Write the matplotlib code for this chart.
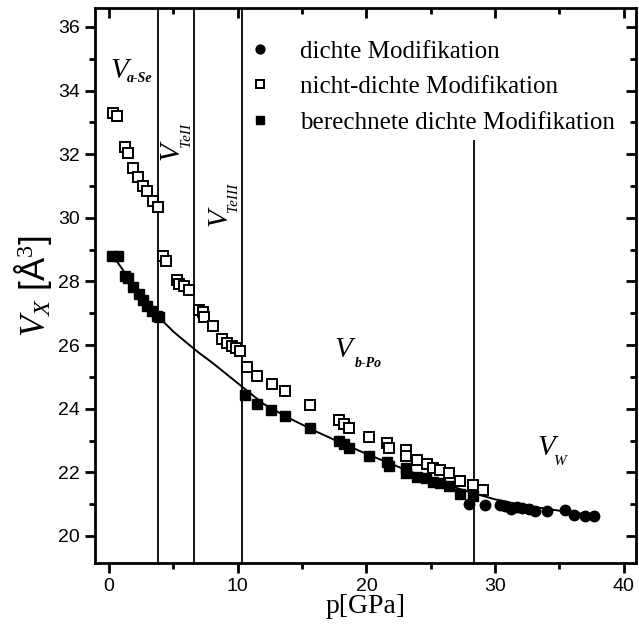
import matplotlib
matplotlib.use('Agg')
import matplotlib.pyplot as plt
from matplotlib.ticker import MultipleLocator

plt.rcParams['font.family'] = ['Liberation Sans', 'DejaVu Sans']
plt.rcParams['mathtext.fontset'] = 'custom'
plt.rcParams['mathtext.rm'] = 'Liberation Serif'
plt.rcParams['mathtext.it'] = 'Liberation Serif:italic'
plt.rcParams['mathtext.bf'] = 'Liberation Serif:bold'

# ---------------- data ----------------
# dichte Modifikation (filled circles)
p_dense = [27.95, 29.2, 30.35, 30.8, 31.2, 31.7, 32.1, 32.6, 33.1, 34.0, 35.4, 36.1, 37.0, 37.7]
V_dense = [21.0, 20.98, 20.98, 20.93, 20.86, 20.9, 20.87, 20.84, 20.78, 20.78, 20.82, 20.65, 20.63, 20.64]

# nicht-dichte Modifikation (open squares)
p_nondense = [0.33, 0.6, 1.24, 1.5, 1.84, 2.23, 2.62, 2.93, 3.4, 3.83,
              4.15, 4.4, 5.26, 5.46, 5.83, 6.24, 7.02, 7.28, 7.4, 8.06,
              8.76, 9.15, 9.53, 9.87, 10.18, 10.75, 11.52, 12.64, 13.68, 15.62,
              17.9, 18.26, 18.65, 20.22, 21.57, 21.78, 23.07, 23.07, 23.9, 24.69,
              25.2, 25.72, 26.44, 27.27, 28.3, 29.08]
V_nondense = [33.31, 33.21, 32.24, 32.03, 31.57, 31.27, 31.01, 30.83, 30.52, 30.35,
              28.81, 28.65, 28.04, 27.92, 27.86, 27.73, 27.10, 27.03, 26.87, 26.61,
              26.19, 26.05, 25.98, 25.91, 25.82, 25.32, 25.03, 24.79, 24.56, 24.12,
              23.65, 23.53, 23.39, 23.12, 22.91, 22.76, 22.70, 22.52, 22.38, 22.26,
              22.13, 22.07, 21.99, 21.73, 21.61, 21.44]

# berechnete dichte Modifikation (filled squares)
p_calc = [0.25, 0.65, 1.24, 1.5, 1.89, 2.28, 2.62, 2.93, 3.32, 3.7, 3.88,
          10.57, 11.48, 12.59, 13.68, 15.62, 17.9, 18.26, 18.67, 20.22, 21.57,
          21.72, 23.07, 23.07, 23.9, 24.6, 25.2, 25.72, 26.44, 27.27, 28.25]
V_calc = [28.81, 28.81, 28.18, 28.11, 27.83, 27.60, 27.42, 27.24, 27.08, 26.92, 26.87,
          24.44, 24.16, 23.96, 23.78, 23.39, 22.97, 22.89, 22.76, 22.52, 22.34,
          22.20, 22.15, 21.99, 21.86, 21.82, 21.71, 21.65, 21.58, 21.31, 21.26]

# fitted curve
p_fit = [0.4, 1, 2, 3, 4, 5, 6, 7, 8, 10, 12, 14, 16, 18, 20, 22, 24, 26, 28, 30, 32, 34, 36, 37.6]
V_fit = [28.75, 28.4, 27.8, 27.25, 26.82, 26.42, 26.08, 25.75, 25.45, 24.8, 24.15, 23.7,
         23.3, 22.93, 22.58, 22.25, 21.93, 21.64, 21.38, 21.15, 20.98, 20.85, 20.74, 20.65]

# phase boundaries
phase_bounds = [3.78, 6.56, 10.3, 28.35]
phase_tops = [36.6, 36.6, 36.6, 32.45]

legend_labels = ['dichte Modifikation', 'nicht-dichte Modifikation',
                 'berechnete dichte Modifikation']

xlim = (-1.1, 40.95)
ylim = (19.15, 36.58)

# ---------------- figure ----------------
fig = plt.figure(figsize=(6.39, 6.33), dpi=100)
ax = fig.add_axes([0.1487, 0.1106, 0.8466, 0.876])
ax.set_xlim(*xlim)
ax.set_ylim(*ylim)

ax.vlines(phase_bounds, ylim[0], phase_tops, colors='black', linewidth=1.3, zorder=1)
ax.plot(p_fit, V_fit, color='black', lw=1.4, zorder=2)

h_dense, = ax.plot(p_dense, V_dense, 'o', color='black', ms=7.5, zorder=4)
h_non, = ax.plot(p_nondense, V_nondense, 's', mfc='white', mec='black', mew=1.4, ms=7.2, zorder=3)
h_calc, = ax.plot(p_calc, V_calc, 's', color='black', ms=7, zorder=4)

serif = 'Liberation Serif'
ax.legend([h_dense, h_non, h_calc], legend_labels, loc='upper left',
          bbox_to_anchor=(0.282, 0.943), frameon=False,
          prop={'family': serif, 'size': 18}, handlelength=1.0, handletextpad=1.1,
          labelspacing=0.52, borderpad=0, borderaxespad=0, markerscale=0.85)

# annotations
def vlabel(xv, yv, xs, ys, sub, rot=0, subsize=11, subweight='normal'):
    ax.text(xv, yv, 'V', family=serif, style='italic', fontsize=21,
            ha='center', va='center', rotation=rot)
    ax.text(xs, ys, sub, family=serif, style='italic', fontsize=subsize,
            weight=subweight, ha='center', va='center', rotation=rot)

vlabel(0.78, 34.63, 2.33, 34.38, 'a-Se', subsize=10, subweight='bold')
vlabel(4.87, 32.11, 6.04, 32.61, 'TeII', rot=90)
vlabel(8.55, 30.03, 9.63, 30.63, 'TeIII', rot=90)
vlabel(18.18, 25.83, 20.12, 25.43, 'b-Po', subsize=10, subweight='bold')
vlabel(33.98, 22.78, 35.09, 22.35, 'W')

# axes styling
for s in ax.spines.values():
    s.set_linewidth(2.0)

ax.xaxis.set_major_locator(MultipleLocator(10))
ax.xaxis.set_minor_locator(MultipleLocator(5))
ax.yaxis.set_major_locator(MultipleLocator(2))
ax.yaxis.set_minor_locator(MultipleLocator(1))
ax.tick_params(which='major', direction='out', length=7, width=2.0, labelsize=14, pad=4)
ax.tick_params(which='minor', direction='out', length=4, width=2.0)

secx = ax.secondary_xaxis('top')
secx.xaxis.set_major_locator(MultipleLocator(10))
secx.xaxis.set_minor_locator(MultipleLocator(5))
secx.tick_params(which='major', direction='in', length=7, width=2.0, labeltop=False)
secx.tick_params(which='minor', direction='in', length=4, width=2.0)
secx.spines['top'].set_visible(False)

secy = ax.secondary_yaxis('right')
secy.yaxis.set_major_locator(MultipleLocator(2))
secy.yaxis.set_minor_locator(MultipleLocator(1))
secy.tick_params(which='major', direction='in', length=7, width=2.0, labelright=False)
secy.tick_params(which='minor', direction='in', length=4, width=2.0)
secy.spines['right'].set_visible(False)

ax.set_xlabel('p[GPa]', family=serif, fontsize=20, labelpad=-1)
ax.set_ylabel(r'$V_X$ [Å$^3$]', fontsize=25, labelpad=3)

fig.savefig('out.png', dpi=100)
